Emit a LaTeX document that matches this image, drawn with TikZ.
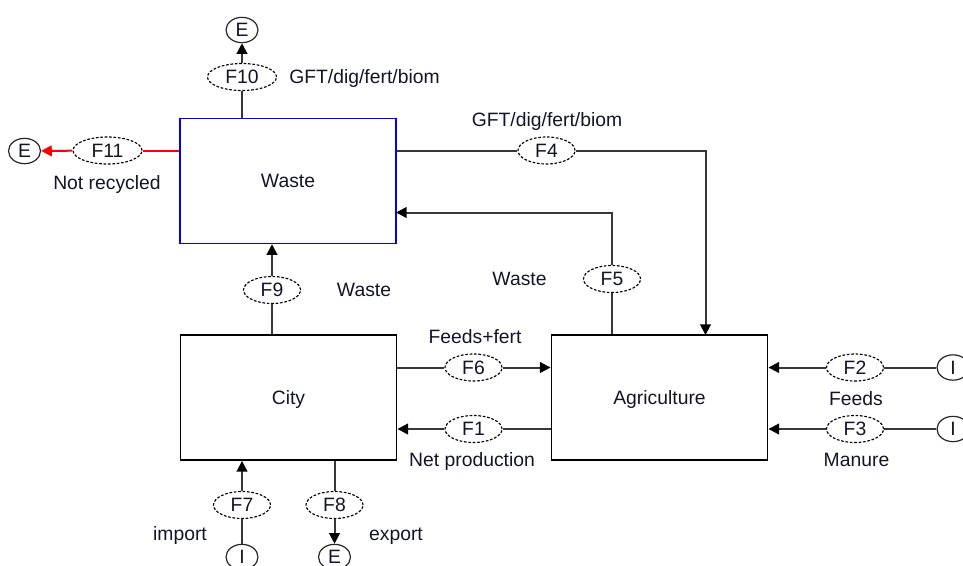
\documentclass[tikz,border=0pt]{standalone}
\usepackage{fontspec}
\setmainfont{Liberation Sans}
\usetikzlibrary{arrows.meta,shapes.geometric}
\definecolor{txt}{RGB}{20,20,40}
\definecolor{ln}{RGB}{55,55,55}
\begin{document}
\begin{tikzpicture}[x=0.75pt,y=-0.75pt,
 every node/.style={font=\fontsize{14.5}{17}\selectfont, text=txt, inner sep=0pt, text height=10.4pt, text depth=0pt},
 box/.style={draw=black, line width=1.4pt, minimum width=162pt, minimum height=93.75pt},
 flow/.style={ellipse, draw=black, dash pattern=on 2pt off 1.3pt, line width=0.85pt, fill=white, minimum width=42.75pt, minimum height=20.25pt},
 term/.style={ellipse, draw=black!85, line width=0.9pt, fill=white, minimum width=24pt, minimum height=19pt},
 conn/.style={draw=ln, line width=1.5pt},
 arr/.style={conn, -{Triangle[length=8pt,width=8pt,color=black]}},
]
\useasboundingbox (0,0) rectangle (963,565);

% boxes
\node[box, draw=blue, line width=1.1pt] (waste) at (288,181) {Waste};
\node[box] (city) at (288.5,397.5) {City};
\node[box] (agri) at (659.5,397.5) {Agriculture};

% flows
\node[flow, minimum width=51.75pt] (f10) at (242,77) {F10};
\node[flow, minimum width=51.75pt] (f11) at (107.5,150.5) {F11};
\node[flow] (f4) at (546.5,150.5) {F4};
\node[flow] (f5) at (612,279) {F5};
\node[flow] (f9) at (272,290) {F9};
\node[flow] (f6) at (473.5,367.5) {F6};
\node[flow] (f1) at (473.5,429) {F1};
\node[flow] (f2) at (855,367.5) {F2};
\node[flow] (f3) at (855,429) {F3};
\node[flow] (f7) at (242,505) {F7};
\node[flow] (f8) at (334.5,505) {F8};

% terminals
\node[term] (e10) at (242,30) {E};
\node[term] (e11) at (24.5,151) {E};
\node[term] (i2) at (953,367.5) {I};
\node[term] (i3) at (953,429) {I};
\node[term] (i7) at (242,557) {I};
\node[term] (e8) at (334.5,557) {E};

\coordinate (a4) at (705.5,335);
\coordinate (w5) at (396,212.5);

% connectors
\draw[conn] (waste.north -| f10) -- (f10);
\draw[arr] (f10) -- (e10);
\draw[conn, draw=red] (waste.west |- f11) -- (f11);
\draw[conn, draw=red, -{Triangle[length=8pt,width=8pt,color=red]}] (f11) -- (e11);
\draw[conn] (waste.east |- f4) -- (f4);
\draw[arr] (f4) -| (a4);
\draw[conn] (agri.north -| f5) -- (f5);
\draw[arr] (f5) |- (w5);
\draw[conn] (city.north -| f9) -- (f9);
\draw[arr] (f9) -- (waste.south -| f9);
\draw[conn] (city.east |- f6) -- (f6);
\draw[arr] (f6) -- (agri.west |- f6);
\draw[conn] (agri.west |- f1) -- (f1);
\draw[arr] (f1) -- (city.east |- f1);
\draw[conn] (i2) -- (f2);
\draw[arr] (f2) -- (agri.east |- f2);
\draw[conn] (i3) -- (f3);
\draw[arr] (f3) -- (agri.east |- f3);
\draw[conn] (i7) -- (f7);
\draw[arr] (f7) -- (city.south -| f7);
\draw[conn] (city.south -| f8) -- (f8);
\draw[arr] (f8) -- (e8);

% labels
\node[anchor=west] (l10) at (289,77) {GFT/dig/fert/biom};
\node (l11) at (107,183) {Not recycled};
\node (l4) at (547,120) {GFT/dig/fert/biom};
\node (l9) at (364,290) {Waste};
\node (l5) at (519.5,279) {Waste};
\node (l6) at (475,337) {Feeds+fert};
\node (l1) at (472,460) {Net production};
\node (l2) at (856,399) {Feeds};
\node (l3) at (856.5,460) {Manure};
\node (l7) at (180,534) {import};
\node (l8) at (396,534) {export};
\end{tikzpicture}
\end{document}
